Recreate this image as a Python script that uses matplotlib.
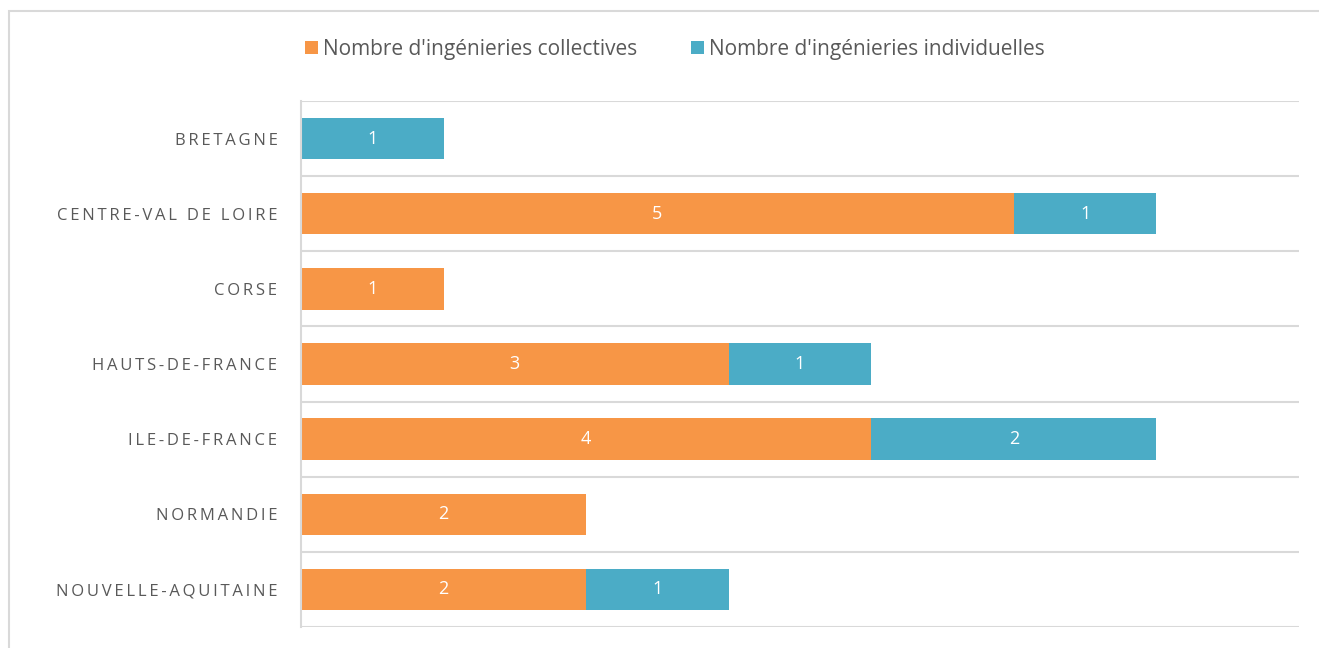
import matplotlib.pyplot as plt
from matplotlib.patches import Rectangle

# Données
regions = ["BRETAGNE", "CENTRE-VAL DE LOIRE", "CORSE", "HAUTS-DE-FRANCE",
           "ILE-DE-FRANCE", "NORMANDIE", "NOUVELLE-AQUITAINE"]
collectives = [0, 5, 1, 3, 4, 2, 2]
individuelles = [1, 1, 0, 1, 2, 0, 1]

orange = "#F79646"
bleu = "#4BACC6"
gris_texte = "#595959"
gris_ligne = "#D9D9D9"

plt.rcParams['font.family'] = ['Open Sans', 'DejaVu Sans']

fig = plt.figure(figsize=(13.19, 6.48), dpi=100)
ax = fig.add_axes([301 / 1319, 21 / 648, 998 / 1319, 526 / 648])

y = list(range(len(regions)))
b1 = ax.barh(y, collectives, height=0.55, color=orange, label="Nombre d'ingénieries collectives")
b2 = ax.barh(y, individuelles, left=collectives, height=0.55, color=bleu,
             label="Nombre d'ingénieries individuelles")

# Étiquettes de valeurs
for barres, vals in [(b1, collectives), (b2, individuelles)]:
    for barre, v in zip(barres, vals):
        if v > 0:
            ax.text(barre.get_x() + barre.get_width() / 2, barre.get_y() + barre.get_height() / 2,
                    str(v), color="white", fontsize=13, ha="center", va="center")

# espacement des lettres (espace fine entre les caractères)
etiquettes = ["\u2009".join(r) for r in regions]

ax.set_xlim(0, 7)
ax.set_ylim(len(regions) - 0.5, -0.5)
ax.set_yticks(y)
ax.set_yticklabels(etiquettes, fontsize=12, color=gris_texte)
ax.tick_params(axis="y", length=0, pad=17)
ax.set_xticks([])

# Lignes de séparation entre catégories
for k in range(len(regions) + 1):
    ax.axhline(k - 0.5, color=gris_ligne, lw=1.5, zorder=0)

for s in ["top", "right", "bottom"]:
    ax.spines[s].set_visible(False)
ax.spines["left"].set_color(gris_ligne)
ax.spines["left"].set_linewidth(1.5)

leg = fig.legend(handles=[b1, b2], loc="center", bbox_to_anchor=(675 / 1319, 1 - 49 / 648),
                 ncol=2, frameon=False, fontsize=15, handlelength=0.6, handleheight=0.6,
                 handletextpad=0.25, columnspacing=2.6)
for t in leg.get_texts():
    t.set_color(gris_texte)

# Cadre du graphique
fig.patches.append(Rectangle((9 / 1319, -0.1), 1.2, 1 - 11 / 648 + 0.1, transform=fig.transFigure,
                             fill=False, edgecolor=gris_ligne, lw=1.5))

plt.savefig("out.png", dpi=100)
